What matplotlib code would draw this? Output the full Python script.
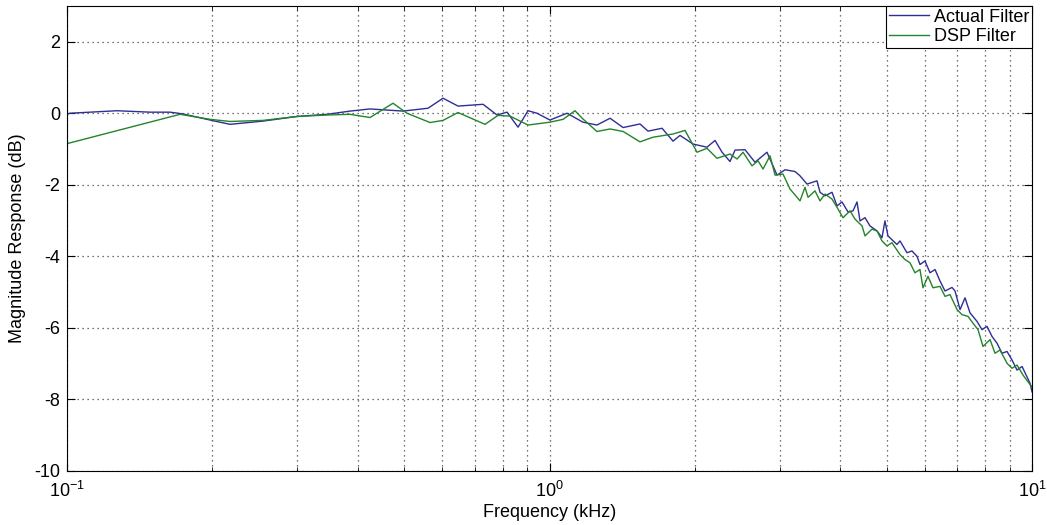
import matplotlib
matplotlib.use("Agg")
import matplotlib.pyplot as plt
from matplotlib.ticker import LogLocator, LogFormatterMathtext, NullFormatter

plt.rcParams['font.family'] = ['Liberation Sans', 'DejaVu Sans']
plt.rcParams['mathtext.default'] = 'regular'
plt.rcParams['axes.unicode_minus'] = False

# frequency in kHz, magnitude in dB
actual_freq = [0.1000, 0.1014, 0.1269, 0.1486, 0.1635, 0.1740, 0.1979, 0.2177, 0.2548, 0.2997,
               0.3459, 0.3859, 0.4246, 0.4970, 0.5601, 0.6016, 0.6462, 0.7282, 0.7785, 0.8165,
               0.8605, 0.9025, 0.9421, 1.002, 1.087, 1.173, 1.254, 1.335, 1.421, 1.540,
               1.600, 1.711, 1.803, 1.864, 1.983, 2.120, 2.203, 2.278, 2.366, 2.424,
               2.542, 2.666, 2.823, 2.962, 3.077, 3.227, 3.305, 3.417, 3.584, 3.636,
               3.724, 3.850, 3.943, 4.038, 4.156, 4.256, 4.338, 4.400, 4.507, 4.615,
               4.772, 4.887, 4.957, 5.029, 5.249, 5.325, 5.506, 5.639, 5.776, 5.859,
               6.000, 6.145, 6.295, 6.446, 6.602, 6.827, 6.925, 7.093, 7.263, 7.438,
               7.691, 7.877, 8.066, 8.262, 8.462, 8.665, 8.875, 9.090, 9.309, 9.536,
               9.763, 9.906, 10.0]
actual_db = [-0.03, 0.0, 0.07, 0.03, 0.03, -0.02, -0.19, -0.31, -0.22, -0.09,
             -0.03, 0.06, 0.12, 0.06, 0.14, 0.42, 0.20, 0.25, -0.05, 0.03,
             -0.39, 0.07, 0.0, -0.19, 0.0, -0.25, -0.33, -0.14, -0.40, -0.30,
             -0.50, -0.42, -0.78, -0.62, -0.86, -0.95, -0.76, -1.09, -1.35, -1.03,
             -1.02, -1.37, -1.09, -1.73, -1.58, -1.63, -1.75, -1.98, -1.89, -2.21,
             -2.31, -2.21, -2.59, -2.48, -2.76, -2.73, -2.48, -3.01, -2.92, -3.15,
             -3.29, -3.48, -3.01, -3.43, -3.67, -3.57, -3.90, -3.85, -4.00, -4.23,
             -4.13, -4.46, -4.37, -4.69, -4.97, -4.87, -4.97, -5.49, -5.16, -5.58,
             -5.82, -6.05, -5.96, -6.24, -6.43, -6.71, -6.66, -6.90, -7.18, -7.08,
             -7.37, -7.55, -7.79]

dsp_freq = [0.1000, 0.1715, 0.1979, 0.2177, 0.2548, 0.2997, 0.3459, 0.3859, 0.4246, 0.4738,
            0.5066, 0.5654, 0.6016, 0.6462, 0.7352, 0.7822, 0.8282, 0.9025, 1.002, 1.067,
            1.129, 1.173, 1.254, 1.335, 1.421, 1.540, 1.639, 1.803, 1.909, 2.022,
            2.120, 2.224, 2.366, 2.447, 2.518, 2.628, 2.705, 2.770, 2.864, 2.934,
            3.047, 3.151, 3.305, 3.384, 3.434, 3.550, 3.636, 3.724, 3.850, 3.943,
            4.057, 4.196, 4.297, 4.443, 4.507, 4.659, 4.772, 4.887, 5.005, 5.125,
            5.325, 5.454, 5.585, 5.720, 5.859, 5.943, 6.087, 6.234, 6.446, 6.602,
            6.762, 6.992, 7.160, 7.368, 7.545, 7.728, 7.914, 8.185, 8.381, 8.584,
            8.875, 9.090, 9.309, 9.579, 9.810, 10.0]
dsp_db = [-0.85, -0.03, -0.17, -0.23, -0.20, -0.09, -0.05, -0.03, -0.12, 0.28,
          0.0, -0.26, -0.20, 0.02, -0.31, -0.06, -0.08, -0.33, -0.25, -0.17,
          0.07, -0.16, -0.51, -0.44, -0.51, -0.80, -0.67, -0.58, -0.48, -1.09,
          -0.98, -1.26, -1.14, -1.28, -1.09, -1.47, -1.33, -1.56, -1.19, -1.73,
          -1.70, -2.12, -2.45, -2.07, -2.35, -2.17, -2.45, -2.26, -2.40, -2.63,
          -2.92, -2.73, -2.96, -3.15, -3.43, -3.24, -3.29, -3.57, -3.71, -3.62,
          -3.95, -4.09, -4.18, -4.46, -4.37, -4.88, -4.56, -4.88, -4.84, -5.12,
          -5.07, -5.49, -5.63, -5.68, -5.87, -6.05, -6.52, -6.33, -6.71, -6.62,
          -6.99, -7.13, -7.04, -7.32, -7.51, -7.65]

fig = plt.figure(figsize=(10.47, 5.25), dpi=100)
ax = fig.add_axes([0.064, 0.103, 0.9217, 0.8857])

ax.semilogx(actual_freq, actual_db, color='#2e2e96', lw=1.0, label='Actual Filter')
ax.semilogx(dsp_freq, dsp_db, color='#23842a', lw=1.0, label='DSP Filter')

ax.set_xlim(0.1, 10)
ax.set_ylim(-10, 3)
ax.set_yticks([-10, -8, -6, -4, -2, 0, 2])
ax.xaxis.set_major_locator(LogLocator(base=10))
ax.xaxis.set_major_formatter(LogFormatterMathtext())
ax.xaxis.set_minor_locator(LogLocator(base=10, subs=range(2, 10)))
ax.xaxis.set_minor_formatter(NullFormatter())

grid_style = dict(linestyle=(0, (1, 3)), color='#444444', lw=0.9)
ax.grid(True, which='major', **grid_style)
ax.grid(True, which='minor', axis='x', **grid_style)

ax.tick_params(which='both', direction='in', top=True, right=True, labelsize=13)
ax.tick_params(which='major', length=6)
ax.tick_params(which='minor', length=3)
ax.tick_params(axis='x', pad=7)
ax.tick_params(axis='y', pad=5)

ax.set_xlabel('Frequency (kHz)', fontsize=13, labelpad=2)
ax.set_ylabel('Magnitude Response (dB)', fontsize=13, labelpad=6)

leg = ax.legend(loc='upper right', fontsize=13, fancybox=False, framealpha=1,
                edgecolor='black', borderaxespad=0, handlelength=2.2,
                borderpad=0.15, labelspacing=0.15, handletextpad=0.3)
leg.get_frame().set_linewidth(0.8)

fig.savefig('out.png', dpi=100)
